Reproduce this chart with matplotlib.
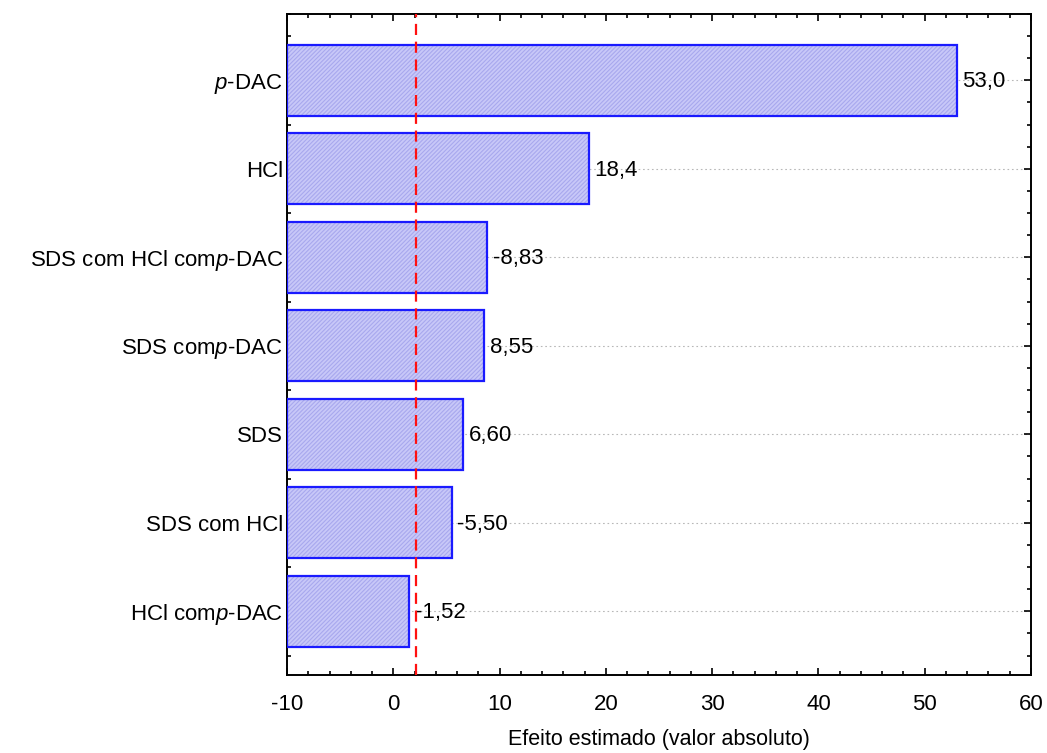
import matplotlib
matplotlib.use('Agg')
import matplotlib.pyplot as plt
from matplotlib.ticker import MultipleLocator, FixedLocator

plt.rcParams['font.family'] = 'Liberation Sans'
plt.rcParams['mathtext.fontset'] = 'custom'
plt.rcParams['mathtext.it'] = 'Liberation Sans:italic'
plt.rcParams['mathtext.rm'] = 'Liberation Sans'
plt.rcParams['axes.unicode_minus'] = False
plt.rcParams['hatch.linewidth'] = 0.8

# efeitos padronizados (de cima para baixo no grafico)
fatores = ['$\\it{p}$-DAC', 'HCl', 'SDS com HCl com$\\it{p}$-DAC', 'SDS com$\\it{p}$-DAC',
           'SDS', 'SDS com HCl', 'HCl com$\\it{p}$-DAC']
efeitos = [53.0, 18.4, -8.83, 8.55, 6.60, -5.50, -1.52]
rotulos = ['53,0', '18,4', '-8,83', '8,55', '6,60', '-5,50', '-1,52']
p_limite = 2.16
x_min, x_max = -10, 60

n = len(fatores)
pos = list(range(n - 1, -1, -1))
absef = [abs(e) for e in efeitos]
fs = 16

fig = plt.figure(figsize=(10.47, 7.53), dpi=100)
ax = fig.add_axes([287 / 1047, 1 - 675 / 753, (1031 - 287) / 1047, (675 - 14) / 753])

ax.set_xlim(x_min, x_max)
ax.set_ylim(-0.72, n - 1 + 0.75)

# linhas de grade pontilhadas em cada fator
for y in pos:
    ax.axhline(y, color='#b8b8b8', lw=0.8, ls=(0, (1.5, 2.5)), zorder=0)

larg = [a - x_min for a in absef]
ax.barh(pos, larg, left=x_min, height=0.8, color='#c8c8f8', edgecolor='#a8a8ee',
        hatch='////////', linewidth=0, zorder=2)
ax.barh(pos, larg, left=x_min, height=0.8, fill=False, edgecolor='#1a1aff',
        linewidth=1.6, zorder=3)

for y, a, t in zip(pos, absef, rotulos):
    ax.annotate(t, (a, y), xytext=(4, -1), textcoords='offset points',
                ha='left', va='center', fontsize=fs, zorder=4)

ax.axvline(p_limite, color='#ff1010', lw=1.6, ls=(0, (5, 3)), zorder=5)

ax.yaxis.set_major_locator(FixedLocator(pos))
ax.set_yticklabels(fatores, fontsize=fs)
ax.yaxis.set_minor_locator(MultipleLocator(0.25))
ax.xaxis.set_major_locator(MultipleLocator(10))
ax.xaxis.set_minor_locator(MultipleLocator(2))
ax.tick_params(axis='x', labelsize=fs, pad=14)
ax.tick_params(which='both', direction='in', top=True, right=True, width=1.2)
ax.tick_params(which='major', length=5)
ax.tick_params(which='minor', length=3)
ax.tick_params(axis='y', pad=3)
for s in ax.spines.values():
    s.set_linewidth(1.4)

ax.set_xlabel('Efeito estimado (valor absoluto)', fontsize=15.5, labelpad=10)

plt.savefig('out.png', dpi=100)
